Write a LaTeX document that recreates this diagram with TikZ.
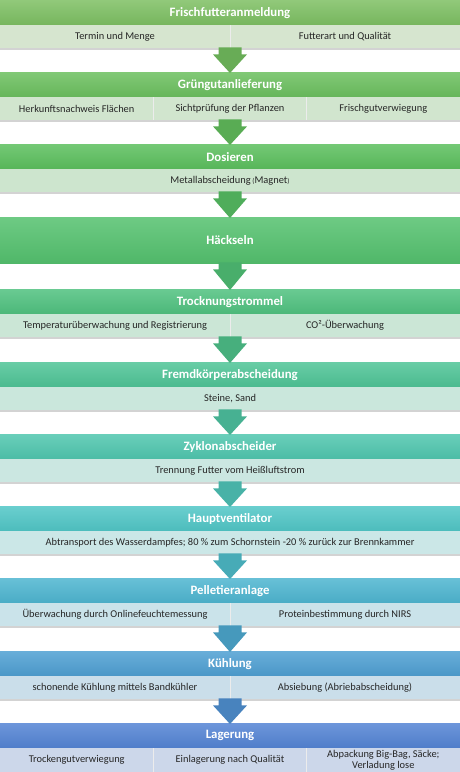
\documentclass[tikz,border=0pt]{standalone}
\usepackage{fontspec}
\setmainfont{Carlito}
\usetikzlibrary{shadows}

\definecolor{c1}{HTML}{7DBF62}
\definecolor{c2}{HTML}{6BBF5E}
\definecolor{c3}{HTML}{5BBF5D}
\definecolor{c4}{HTML}{54C16E}
\definecolor{c5}{HTML}{4FC17F}
\definecolor{c6}{HTML}{4EC496}
\definecolor{c7}{HTML}{4FC6AE}
\definecolor{c8}{HTML}{50C6C6}
\definecolor{c9}{HTML}{4DB5D0}
\definecolor{c10}{HTML}{4E9FD2}
\definecolor{c11}{HTML}{5383D4}

% block arrow from the bottom of one block to the top of the next
\newcommand{\flowarrow}[3]{%
  \fill[#3] ([xshift=-11.5pt,yshift=1pt]#1.south) -- ([xshift=-11.5pt,yshift=-6pt]#1.south)
    -- ([xshift=-17pt,yshift=-6pt]#1.south) -- ([yshift=-1pt]#2.north)
    -- ([xshift=17pt,yshift=-6pt]#1.south) -- ([xshift=11.5pt,yshift=-6pt]#1.south)
    -- ([xshift=11.5pt,yshift=1pt]#1.south) -- cycle;}

\begin{document}
\begin{tikzpicture}[
        x=1pt, y=-1pt,
        head/.style={minimum width=460pt, minimum height=25pt, inner sep=0pt, anchor=north,
            text=white, font=\bfseries\fontsize{12.8}{14}\selectfont,
            top color=#1!85!white, bottom color=#1!95!black},
        subrow/.style={minimum width=460pt, minimum height=23pt, inner sep=0pt, anchor=north,
            fill=#1!25!white!96!black,
            drop shadow={shadow xshift=0pt, shadow yshift=-1.5pt, opacity=0.35}},
        cell/.style={inner sep=0pt, align=center, text=black!85,
            font=\fontsize{10.4}{10.6}\selectfont},
        divider/.style={white!85!gray, line width=0.8pt}
    ]
    \useasboundingbox (0,0) rectangle (460,772);

    % Frischfutteranmeldung
    \node[head=c1] (h1) at (230,0) {Frischfutteranmeldung};
    \node[subrow=c1] (s1) at (230,25) {};
    \draw[divider] (230,25) -- (230,48);
    \node[cell] (s1a) at (115,36.5) {Termin und Menge};
    \node[cell] (s1b) at (345,36.5) {Futterart und Qualität};

    % Grüngutanlieferung
    \node[head=c2] (h2) at (230,72) {Grüngutanlieferung};
    \node[subrow=c2] (s2) at (230,97) {};
    \draw[divider] (153.3,97) -- (153.3,120) (306.7,97) -- (306.7,120);
    \node[cell] (s2a) at (76.7,108.5) {Herkunftsnachweis Flächen};
    \node[cell] (s2b) at (230,108.5) {Sichtprüfung der Pflanzen};
    \node[cell] (s2c) at (383.3,108.5) {Frischgutverwiegung};

    % Dosieren
    \node[head=c3] (h3) at (230,144) {Dosieren};
    \node[subrow=c3] (s3) at (230,169) {};
    \node[cell] (s3a) at (230,180.5) {Metallabscheidung\,{\fontsize{7}{7}\selectfont(}Magnet{\fontsize{7}{7}\selectfont)}};

    % Häckseln
    \node[head=c4, minimum height=46pt] (h4) at (230,217) {Häckseln};

    % Trocknungstrommel
    \node[head=c5] (h5) at (230,289) {Trocknungstrommel};
    \node[subrow=c5] (s5) at (230,314) {};
    \draw[divider] (230,314) -- (230,337);
    \node[cell] (s5a) at (115,325.5) {Temperaturüberwachung und Registrierung};
    \node[cell] (s5b) at (345,325.5) {CO²-Überwachung};

    % Fremdkörperabscheidung
    \node[head=c6] (h6) at (230,362) {Fremdkörperabscheidung};
    \node[subrow=c6] (s6) at (230,387) {};
    \node[cell] (s6a) at (230,398.5) {Steine, Sand};

    % Zyklonabscheider
    \node[head=c7] (h7) at (230,434) {Zyklonabscheider};
    \node[subrow=c7] (s7) at (230,459) {};
    \node[cell] (s7a) at (230,470.5) {Trennung Futter vom Heißluftstrom};

    % Hauptventilator
    \node[head=c8] (h8) at (230,506) {Hauptventilator};
    \node[subrow=c8] (s8) at (230,531) {};
    \node[cell] (s8a) at (230,542.5) {Abtransport des Wasserdampfes; 80 \% zum Schornstein -20 \% zurück zur Brennkammer};

    % Pelletieranlage
    \node[head=c9] (h9) at (230,578) {Pelletieranlage};
    \node[subrow=c9] (s9) at (230,603) {};
    \draw[divider] (230,603) -- (230,626);
    \node[cell] (s9a) at (115,614.5) {Überwachung durch Onlinefeuchtemessung};
    \node[cell] (s9b) at (345,614.5) {Proteinbestimmung durch NIRS};

    % Kühlung
    \node[head=c10] (h10) at (230,651) {Kühlung};
    \node[subrow=c10] (s10) at (230,676) {};
    \draw[divider] (230,676) -- (230,699);
    \node[cell] (s10a) at (115,687.5) {schonende Kühlung mittels Bandkühler};
    \node[cell] (s10b) at (345,687.5) {Absiebung (Abriebabscheidung)};

    % Lagerung
    \node[head=c11] (h11) at (230,723) {Lagerung};
    \node[subrow=c11, minimum height=24pt] (s11) at (230,748) {};
    \draw[divider] (153.3,748) -- (153.3,772) (306.7,748) -- (306.7,772);
    \node[cell] (s11a) at (76.7,760) {Trockengutverwiegung};
    \node[cell] (s11b) at (230,760) {Einlagerung nach Qualität};
    \node[cell] (s11c) at (383.3,760) {Abpackung Big-Bag, Säcke;\\Verladung lose};

    % arrows
    \flowarrow{s1}{h2}{c1!50!c2!90!black}
    \flowarrow{s2}{h3}{c2!50!c3!90!black}
    \flowarrow{s3}{h4}{c3!50!c4!90!black}
    \flowarrow{h4}{h5}{c4!50!c5!90!black}
    \flowarrow{s5}{h6}{c5!50!c6!90!black}
    \flowarrow{s6}{h7}{c6!50!c7!90!black}
    \flowarrow{s7}{h8}{c7!50!c8!90!black}
    \flowarrow{s8}{h9}{c8!50!c9!90!black}
    \flowarrow{s9}{h10}{c9!50!c10!90!black}
    \flowarrow{s10}{h11}{c10!50!c11!90!black}
\end{tikzpicture}
\end{document}
